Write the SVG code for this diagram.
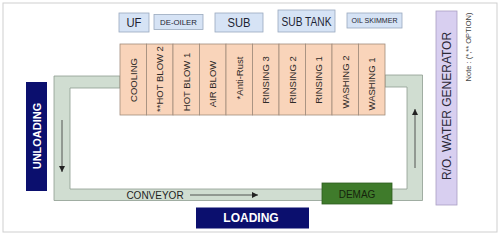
<svg xmlns="http://www.w3.org/2000/svg" width="500" height="236" viewBox="0 0 500 236">
<style>
text{font-family:"Liberation Sans",Arial,sans-serif;}
.top{fill:#d6e3f5;stroke:#9aa9be;stroke-width:0.8;}
.toptx{fill:#1d2333;text-anchor:middle;dominant-baseline:central;}
.st{fill:#f9d4ba;stroke:#a08c7c;stroke-width:0.8;}
.sttx{fill:#2e2a28;font-size:9.5px;text-anchor:middle;dominant-baseline:central;}
.navy{fill:#0b0f6e;}
.wtx{fill:#ffffff;font-weight:bold;text-anchor:middle;dominant-baseline:central;}
.ln{stroke:#333;stroke-width:0.8;fill:none;}
</style>
<defs>
<marker id="ah" viewBox="0 0 10 10" refX="10" refY="5" markerWidth="6" markerHeight="6" orient="auto" markerUnits="userSpaceOnUse">
<path d="M0,0 L10,5 L0,10 Z" fill="#222"/>
</marker>
</defs>
<rect x="0" y="0" width="500" height="236" fill="#ffffff"/>
<rect x="3" y="3" width="494" height="229" fill="#ffffff" stroke="#cfcfcf" stroke-width="1"/>

<g id="conveyor-loop">
<path d="M120,76 H54 V200.5 H422.5 V75 H385 V87 H407 V189 H70 V88 H120 Z" fill="#d0ddd1" stroke="#8e9c8f" stroke-width="0.8"/>
</g>

<g id="uf"><rect class="top" x="119" y="13" width="30" height="19"/><text class="toptx" x="134" y="22.5" font-size="13" textLength="15" lengthAdjust="spacingAndGlyphs">UF</text></g>
<g id="de-oiler"><rect class="top" x="154" y="14.5" width="49" height="15"/><text class="toptx" x="178.5" y="22" font-size="8" textLength="37" lengthAdjust="spacingAndGlyphs">DE-OILER</text></g>
<g id="sub"><rect class="top" x="215" y="13" width="48" height="19"/><text class="toptx" x="239" y="22.5" font-size="13" textLength="23" lengthAdjust="spacingAndGlyphs">SUB</text></g>
<g id="sub-tank"><rect class="top" x="278" y="10" width="57" height="22"/><text class="toptx" x="306.5" y="21" font-size="13" textLength="50" lengthAdjust="spacingAndGlyphs">SUB TANK</text></g>
<g id="oil-skimmer"><rect class="top" x="347" y="13" width="55" height="15"/><text class="toptx" x="374.5" y="20.5" font-size="7.5" textLength="46" lengthAdjust="spacingAndGlyphs">OIL SKIMMER</text></g>

<g id="cooling"><rect class="st" x="120" y="44" width="26.5" height="71"/><text class="sttx" transform="translate(133.25,80) rotate(-90)">COOLING</text></g>
<g id="hot-blow-2"><rect class="st" x="146.5" y="44" width="26.5" height="71"/><text class="sttx" transform="translate(159.75,79) rotate(-90)">**HOT BLOW 2</text></g>
<g id="hot-blow-1"><rect class="st" x="173" y="44" width="26.5" height="71"/><text class="sttx" transform="translate(186.25,82) rotate(-90)">HOT BLOW 1</text></g>
<g id="air-blow"><rect class="st" x="199.5" y="44" width="26.5" height="71"/><text class="sttx" transform="translate(212.75,84) rotate(-90)">AIR BLOW</text></g>
<g id="anti-rust"><rect class="st" x="226" y="44" width="26.5" height="71"/><text class="sttx" transform="translate(239.25,78) rotate(-90)">*Anti-Rust</text></g>
<g id="rinsing-3"><rect class="st" x="252.5" y="44" width="26.5" height="71"/><text class="sttx" transform="translate(265.75,80) rotate(-90)">RINSING 3</text></g>
<g id="rinsing-2"><rect class="st" x="279" y="44" width="26.5" height="71"/><text class="sttx" transform="translate(292.25,80) rotate(-90)">RINSING 2</text></g>
<g id="rinsing-1"><rect class="st" x="305.5" y="44" width="26.5" height="71"/><text class="sttx" transform="translate(318.75,80) rotate(-90)">RINSING 1</text></g>
<g id="washing-2"><rect class="st" x="332" y="44" width="26.5" height="71"/><text class="sttx" transform="translate(345.25,82) rotate(-90)">WASHING 2</text></g>
<g id="washing-1"><rect class="st" x="358.5" y="44" width="26.5" height="71"/><text class="sttx" transform="translate(371.75,84) rotate(-90)">WASHING 1</text></g>

<g id="unloading"><rect class="navy" x="26" y="82" width="21" height="109"/><text class="wtx" font-size="11" transform="translate(36.5,136) rotate(-90)">UNLOADING</text></g>
<g id="loading"><rect class="navy" x="196" y="207.5" width="113" height="21"/><text class="wtx" font-size="12" x="251" y="218">LOADING</text></g>
<g id="demag"><rect x="322" y="183" width="70" height="21" fill="#3f7b2b" stroke="#2f5e20" stroke-width="0.8"/><text x="357" y="194" font-size="10" fill="#15240c" text-anchor="middle" dominant-baseline="central">DEMAG</text></g>
<g id="ro-water-generator"><rect x="436" y="11" width="21" height="194" fill="#d8cff0" stroke="#aa9fc2" stroke-width="0.8"/><text font-size="12" fill="#2b2838" text-anchor="middle" dominant-baseline="central" transform="translate(446.5,106) rotate(-90)">R/O. WATER GENERATOR</text></g>
<g id="note"><text font-size="7.5" fill="#444" text-anchor="middle" dominant-baseline="central" transform="translate(468,47) rotate(-90)">Note : (*,** OPTION)</text></g>
<g id="conveyor-label"><text x="155" y="195" font-size="10" fill="#1e1e1e" text-anchor="middle" dominant-baseline="central">CONVEYOR</text></g>

<g id="connectors">
<line class="ln" x1="190" y1="195" x2="258" y2="195" marker-end="url(#ah)"/>
<line class="ln" x1="62" y1="120" x2="62" y2="172" marker-end="url(#ah)"/>
<line class="ln" x1="415" y1="168" x2="415" y2="109" marker-end="url(#ah)"/>
</g>
</svg>
